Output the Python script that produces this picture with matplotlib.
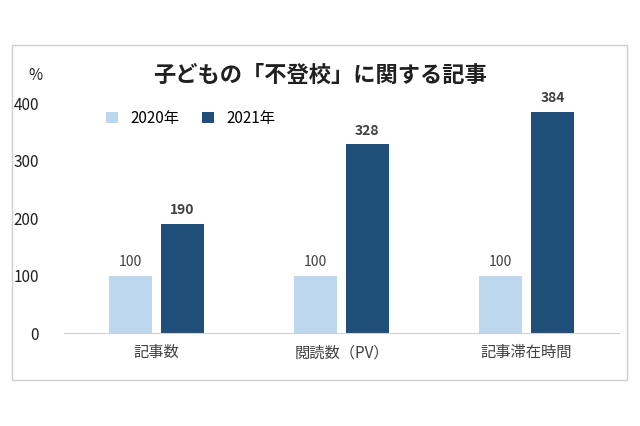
import matplotlib.pyplot as plt
from matplotlib.patches import Rectangle
import numpy as np

plt.rcParams['font.family'] = 'Noto Sans CJK JP'

categories = ['記事数', '閲読数（PV）', '記事滞在時間']
values_2020 = [100, 100, 100]
values_2021 = [190, 328, 384]
series_names = ['2020年', '2021年']
yticks = [0, 100, 200, 300, 400]

light = '#BDD7EE'
dark = '#1F4E79'

fig = plt.figure(figsize=(6.4, 4.26), dpi=100)
fig.patches.append(Rectangle((12 / 640, 1 - 380 / 426), 615 / 640, 335 / 426,
                             transform=fig.transFigure, fill=False,
                             edgecolor='#d0d0d0', linewidth=1))
ax = fig.add_axes([64 / 640, 0.218, 555 / 640, 0.54])

x = np.arange(len(categories))
w = 0.235
b1 = ax.bar(x - 0.14, values_2020, w, color=light, label=series_names[0])
b2 = ax.bar(x + 0.14, values_2021, w, color=dark, label=series_names[1])

for r in b1:
    ax.text(r.get_x() + r.get_width() / 2, r.get_height() + 12, '%d' % r.get_height(),
            ha='center', va='bottom', fontsize=10, color='#404040')
for r in b2:
    ax.text(r.get_x() + r.get_width() / 2, r.get_height() + 12, '%d' % r.get_height(),
            ha='center', va='bottom', fontsize=10, color='#404040', fontweight='bold')

ax.set_xlim(-0.5, 2.5)
ax.set_ylim(0, 400)
ax.set_yticks(yticks)
ax.set_xticks(x)
ax.set_xticklabels(categories, fontsize=11, color='#404040')
ax.tick_params(axis='y', length=0, labelsize=11, labelcolor='#202020', pad=18)
ax.tick_params(axis='x', length=0, pad=8)
for s in ['top', 'right', 'left']:
    ax.spines[s].set_visible(False)
ax.spines['bottom'].set_color('#d0d0d0')

ax.legend(loc='upper left', bbox_to_anchor=(0.05, 1.03), ncol=2, frameon=False,
          fontsize=11, handlelength=0.8, handleheight=0.8, columnspacing=1.5)

fig.text(0.5, 1 - 75 / 426, '子どもの「不登校」に関する記事', ha='center', va='center',
         fontsize=16, fontweight='bold', color='#202020')
fig.text(35 / 640, 1 - 75 / 426, '%', ha='center', va='center', fontsize=11, color='#202020')

fig.savefig('out.png', dpi=100)
